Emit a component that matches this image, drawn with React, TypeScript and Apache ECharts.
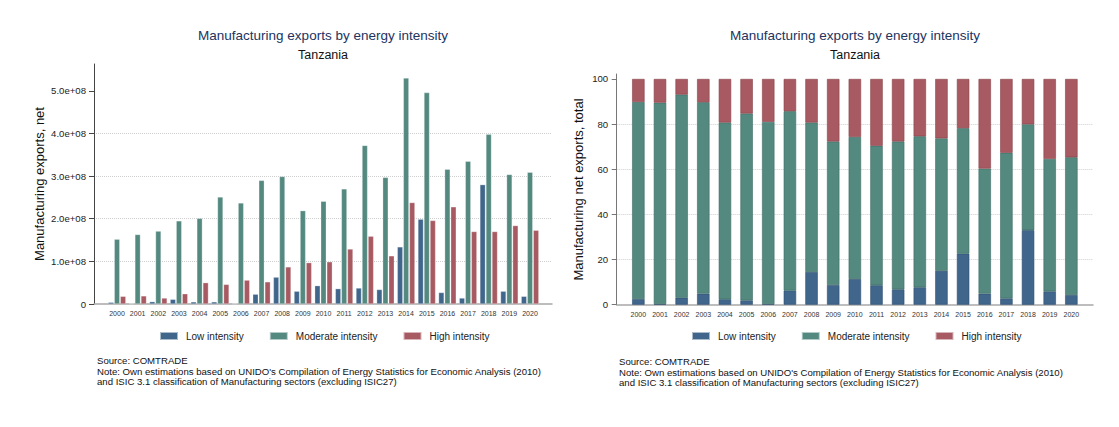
import React, { useEffect, useRef } from "react";
import * as echarts from "echarts";

const years = ["2000","2001","2002","2003","2004","2005","2006","2007","2008","2009","2010","2011","2012","2013","2014","2015","2016","2017","2018","2019","2020"];
const seriesNames = ["Low intensity", "Moderate intensity", "High intensity"];

// Left chart: net exports (USD)
const lowNet = [4e6, 1e6, 5.5e6, 11e6, 5e6, 5e6, 1e6, 23e6, 63e6, 30e6, 43e6, 36e6, 37.5e6, 34e6, 134e6, 199e6, 27e6, 14e6, 280e6, 30e6, 18e6];
const modNet = [152e6, 163e6, 171e6, 195e6, 201e6, 251e6, 237e6, 290e6, 299e6, 219e6, 241e6, 270e6, 372e6, 297e6, 530e6, 496e6, 316e6, 335e6, 398e6, 304e6, 309e6];
const highNet = [18e6, 19e6, 14e6, 24e6, 50e6, 46e6, 56e6, 52e6, 87e6, 97e6, 99e6, 129e6, 159e6, 113e6, 238e6, 196e6, 228e6, 170e6, 170e6, 184e6, 173e6];
const netTicks = [0, 1e8, 2e8, 3e8, 4e8, 5e8];
const netTickLabels = ["0", "1.0e+08", "2.0e+08", "3.0e+08", "4.0e+08", "5.0e+08"];

// Right chart: share of total (%)
const lowShare = [2.5, 0.3, 3.1, 4.9, 2.4, 1.9, 0.3, 6.3, 14.5, 8.7, 11.4, 8.6, 6.8, 7.7, 15.0, 22.6, 4.9, 2.8, 33.0, 5.9, 4.3];
const modShare = [87.3, 89.2, 90.0, 84.8, 78.3, 82.8, 80.7, 79.4, 66.2, 63.6, 62.9, 61.8, 65.5, 66.9, 58.7, 55.6, 55.4, 64.5, 46.9, 58.7, 61.0];
const highShare = [10.2, 10.5, 6.9, 10.3, 19.3, 15.3, 19.0, 14.3, 19.3, 27.7, 25.7, 29.6, 27.7, 25.4, 26.3, 21.8, 39.7, 32.7, 20.1, 35.4, 34.7];
const shareTicks = [0, 20, 40, 60, 80, 100];
const shareTickLabels = ["0", "20", "40", "60", "80", "100"];

const titleText = "Manufacturing exports by energy intensity";
const subtitleText = "Tanzania";
const leftYName = "Manufacturing exports, net";
const rightYName = "Manufacturing net exports, total";
const noteLines = [
  "Source: COMTRADE",
  "Note: Own estimations based on UNIDO's Compilation of Energy Statistics for Economic Analysis (2010)",
  "and ISIC 3.1 classification of Manufacturing sectors (excluding ISIC27)",
];

const COLORS = ["#41668c", "#548980", "#a85a62"];
const DARK = ["#2c4c6e", "#3d6c63", "#874248"];
const FONT = "'Liberation Sans', Arial, Helvetica, sans-serif";

export default function App() {
  const ref = useRef<HTMLDivElement>(null);

  useEffect(() => {
    document.body.style.margin = "0";
    const chart = echarts.init(ref.current!, undefined, { renderer: "svg" });
    const idx = years.map((_, i) => i);
    // padded categories for the stacked chart (empty slot at both ends)
    const paddedYears = ["", ...years, ""];

    const xLabelStyle = { fontSize: 7, margin: 6, color: "#333", fontFamily: FONT };

    const netSeries = [lowNet, modNet, highNet].map((arr, k) => ({
      name: seriesNames[k],
      type: "bar",
      xAxisIndex: 0,
      yAxisIndex: 0,
      barWidth: 5.5,
      barGap: "10%",
      itemStyle: { color: COLORS[k], borderColor: "rgba(255,255,255,0.55)", borderWidth: 0.5 },
      data: arr.map((v, i) => [i, v]),
    }));

    const shareSeries = [lowShare, modShare, highShare].map((arr, k) => ({
      name: seriesNames[k],
      type: "bar",
      xAxisIndex: 1,
      yAxisIndex: 1,
      stack: "share",
      barWidth: 12.4,
      itemStyle: { color: COLORS[k], borderColor: DARK[k], borderWidth: 0.6 },
      data: arr.map((v, i) => [i + 1, v]),
    }));

    const textEl = (text: string, x: number, y: number, size: number, color: string, align = "center", rotation = 0) => ({
      type: "text",
      x,
      y,
      rotation,
      silent: true,
      style: { text, fontSize: size, fontFamily: FONT, fill: color, align, verticalAlign: "middle" },
    });

    const legend = (left: number) => ({
      left,
      top: 326,
      padding: 5,
      orient: "horizontal",
      icon: "rect",
      itemWidth: 18,
      itemHeight: 8,
      itemGap: 25,
      selectedMode: false,
      data: seriesNames,
      textStyle: { fontSize: 10, color: "#222", fontFamily: FONT, padding: [0, 0, 0, 3] },
    });

    const yAxisCommon = (gridIndex: number, max: number, interval: number, ticks: number[], labels: string[], axisColor: string, margin: number) => ({
      type: "value",
      gridIndex,
      min: 0,
      max,
      interval,
      axisLine: { show: true, onZero: false, lineStyle: { color: axisColor, width: 1 } },
      axisTick: { show: true, length: 5, customValues: ticks, lineStyle: { color: axisColor } },
      axisLabel: {
        customValues: ticks,
        formatter: (v: number) => labels[ticks.indexOf(v)] ?? "",
        fontSize: 9.6,
        margin,
        color: "#222",
        fontFamily: FONT,
      },
      splitLine: { show: true, showMinLine: false, showMaxLine: false, lineStyle: { type: "dotted", color: "#cfcfcf", width: 1 } },
    });

    chart.setOption({
      animation: false,
      backgroundColor: "#ffffff",
      textStyle: { fontFamily: FONT },
      grid: [
        { left: 94, top: 64, width: 458, height: 240 },
        { left: 616.7, top: 74, width: 476.3, height: 230.7 },
      ],
      xAxis: [
        {
          type: "value",
          gridIndex: 0,
          min: -1.114,
          max: 21.065,
          axisLine: { show: true, onZero: false, lineStyle: { color: "#a8a8a8", width: 1.5 } },
          axisTick: { show: false },
          splitLine: { show: false },
          axisLabel: { ...xLabelStyle, customValues: idx, formatter: (v: number) => years[Math.round(v)] ?? "" },
        },
        {
          type: "category",
          gridIndex: 1,
          data: paddedYears,
          boundaryGap: false,
          axisLine: { show: true, onZero: false, lineStyle: { color: "#a8a8a8", width: 1.5 } },
          axisTick: { show: false },
          splitLine: { show: false },
          axisLabel: { ...xLabelStyle, interval: 0 },
        },
      ],
      yAxis: [
        yAxisCommon(0, 5.63e8, 1e8, netTicks, netTickLabels, "#444", 8),
        yAxisCommon(1, 102.2, 20, shareTicks, shareTickLabels, "#777", 8.5),
      ],
      legend: [legend(154), legend(686)],
      series: [...netSeries, ...shareSeries],
      graphic: [
        textEl(titleText, 323, 35, 13.5, "#22335f"),
        textEl(subtitleText, 323, 54.5, 12.5, "#111"),
        textEl(titleText, 855, 35, 13.5, "#22335f"),
        textEl(subtitleText, 855, 54.5, 12.5, "#111"),
        textEl(leftYName, 39, 184, 13, "#111", "center", Math.PI / 2),
        textEl(rightYName, 578.5, 189.5, 13, "#111", "center", Math.PI / 2),
        ...noteLines.map((t, i) => textEl(t, 97, 360.7 + i * 10.5, 9.6, "#111", "left")),
        ...noteLines.map((t, i) => textEl(t, 619, 361.7 + i * 10.5, 9.6, "#111", "left")),
      ],
    });

    return () => chart.dispose();
  }, []);

  return <div ref={ref} style={{ position: "absolute", left: 0, top: 0, width: 1119, height: 427 }} />;
}
